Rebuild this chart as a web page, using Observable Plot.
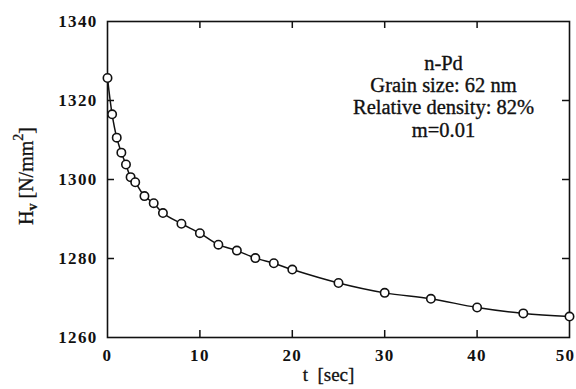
<!DOCTYPE html>
<html>
<head>
<meta charset="utf-8">
<script src="https://cdn.jsdelivr.net/npm/d3@7"></script>
<script src="https://cdn.jsdelivr.net/npm/@observablehq/plot@0.6"></script>
<style>
  html, body { margin: 0; padding: 0; background: white; }
</style>
</head>
<body>
<script>
// Data
const tSec = [0, 0.5, 1, 1.5, 2, 2.5, 3, 4, 5, 6, 8, 10, 12, 14, 16, 18, 20, 25, 30, 35, 40, 45, 50];
const hv = [1325.7, 1316.5, 1310.6, 1306.8, 1303.8, 1300.6, 1299.3, 1295.8, 1294.0, 1291.5, 1288.8, 1286.4, 1283.5, 1282.0, 1280.1, 1278.8, 1277.2, 1273.8, 1271.3, 1269.8, 1267.6, 1266.1, 1265.3];
const xTicks = [0, 10, 20, 30, 40, 50];
const yTicks = [1260, 1280, 1300, 1320, 1340];
const annotationLines = ["n-Pd", "Grain size: 62 nm", "Relative density: 82%", "m=0.01"];
const xLabel = "t\u00a0\u00a0[sec]";

const data = tSec.map((t, i) => ({t, hv: hv[i]}));
const innerTicksX = xTicks.slice(1, -1);
const innerTicksY = yTicks.slice(1, -1);
const serif = "'Liberation Serif', 'Times New Roman', serif";

const plot = Plot.plot({
  width: 576,
  height: 389,
  marginLeft: 107,
  marginRight: 7,
  marginTop: 21,
  marginBottom: 52,
  x: {domain: [0, 50]},
  y: {domain: [1260, 1340]},
  style: {fontFamily: serif, fontSize: "17px", color: "#111", background: "white"},
  marks: [
    Plot.axisX(xTicks, {tickSize: 0, tickPadding: 11, label: null, fontSize: 17, fontWeight: "bold", tickFormat: d3.format("d")}),
    Plot.axisY(yTicks, {tickSize: 0, tickPadding: 10, label: null, fontSize: 17, fontWeight: "bold", tickFormat: d3.format("d")}),
    Plot.tickX(innerTicksX, {x: d => d, insetTop: 309, strokeWidth: 1.5}),
    Plot.tickX(innerTicksX, {x: d => d, insetBottom: 309, strokeWidth: 1.5}),
    Plot.tickY(innerTicksY, {y: d => d, insetRight: 455, strokeWidth: 1.5}),
    Plot.tickY(innerTicksY, {y: d => d, insetLeft: 455, strokeWidth: 1.5}),
    Plot.frame({stroke: "#111", strokeWidth: 1.6}),
    Plot.line(data, {x: "t", y: "hv", curve: "catmull-rom", stroke: "#111", strokeWidth: 1.5}),
    Plot.dot(data, {x: "t", y: "hv", r: 4.2, stroke: "#111", strokeWidth: 1.6, fill: "white"}),
    Plot.text([annotationLines.join("\n")], {
      frameAnchor: "top", dx: 105, dy: 33, lineAnchor: "top",
      fontFamily: serif, fontSize: 20.5, lineHeight: 1.08, fill: "#111",
      stroke: "#111", strokeWidth: 0.35
    }),
    Plot.text([xLabel], {frameAnchor: "bottom", dx: -10, dy: 43, fontFamily: serif, fontSize: 19, fill: "#111", stroke: "#111", strokeWidth: 0.3})
  ]
});

document.body.appendChild(plot);

const svg = d3.select(plot);
// Wide, heavy tick digits like the reference
svg.selectAll("g[aria-label='x-axis tick label'] text, g[aria-label='y-axis tick label'] text")
  .attr("letter-spacing", 1.3);
// keep the last x label inside the picture
svg.selectAll("g[aria-label='x-axis tick label'] text")
  .filter(function() { return this.textContent === "50"; })
  .attr("dx", -4);

// Y-axis label with subscript / superscript
const ylab = svg.append("text")
  .attr("transform", "translate(33,176) rotate(-90)")
  .attr("text-anchor", "middle")
  .attr("font-family", serif)
  .attr("font-size", 20)
  .attr("fill", "#111")
  .attr("stroke", "#111")
  .attr("stroke-width", 0.3);
ylab.append("tspan").text("H");
ylab.append("tspan").attr("dy", 4).attr("font-size", 14).attr("font-weight", "bold").text("v");
ylab.append("tspan").attr("dy", -4).text("\u00a0[N/mm");
ylab.append("tspan").attr("dy", -10).attr("font-size", 14).text("2");
ylab.append("tspan").attr("dy", 10).text("]");
</script>
</body>
</html>
